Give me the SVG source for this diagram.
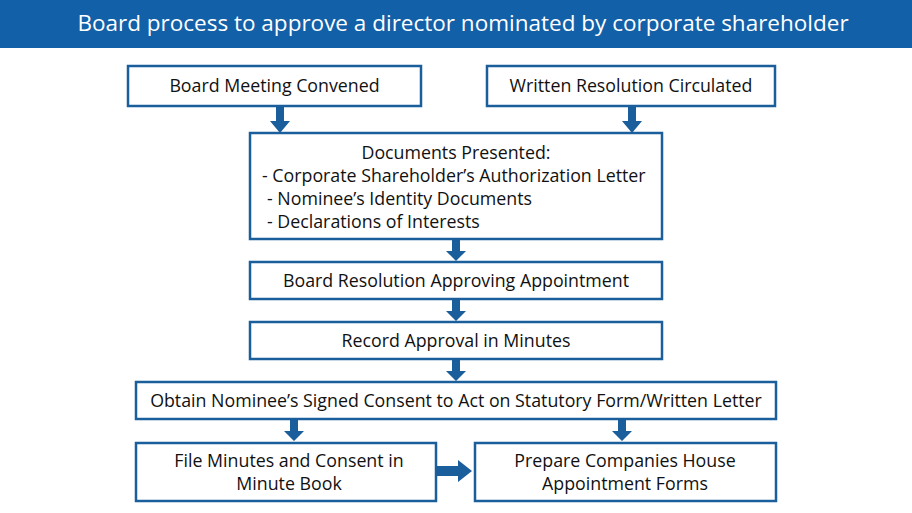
<svg xmlns="http://www.w3.org/2000/svg" width="912" height="513" viewBox="0 0 912 513">
<style>
.box{fill:#fff;stroke:#1b5e9c;stroke-width:2.5}
.t{font-family:"Open Sans","Liberation Sans",sans-serif;font-size:17.8px;fill:#111;text-anchor:middle}
.ar{fill:#1b5e9c}
</style>
<defs>
<path id="dn" d="M-4,0 H4 V14 H10 L0,26 L-10,14 H-4 Z"/>
</defs>
<rect x="0" y="0" width="912" height="48" fill="#1260a8"/>
<text x="463" y="31" font-family="Open Sans, Liberation Sans, sans-serif" font-size="22.5" fill="#fff" text-anchor="middle">Board process to approve a director nominated by  corporate shareholder</text>
<g id="connectors" class="ar">
<use href="#dn" transform="translate(280,107)"/>
<use href="#dn" transform="translate(632,107)"/>
<use href="#dn" transform="translate(456,239) scale(1,0.85)"/>
<use href="#dn" transform="translate(456,299) scale(1,0.85)"/>
<use href="#dn" transform="translate(456,359) scale(1,0.85)"/>
<use href="#dn" transform="translate(294,419) scale(1,0.85)"/>
<use href="#dn" transform="translate(622,419) scale(1,0.85)"/>
<path d="M437,466 H458 V460 L472,471 L458,482 V476 H437 Z"/>
</g>
<g id="n1"><rect class="box" x="128" y="66" width="293" height="40"/><text class="t" x="274.5" y="92">Board Meeting Convened</text></g>
<g id="n2"><rect class="box" x="487" y="66" width="288" height="40"/><text class="t" x="631" y="92">Written Resolution Circulated</text></g>
<g id="n3"><rect class="box" x="250" y="133" width="412" height="106"/>
<text class="t" x="456" y="159">Documents Presented:</text>
<text class="t" x="262" y="182" style="text-anchor:start">- Corporate Shareholder’s Authorization Letter</text>
<text class="t" x="267" y="205" style="text-anchor:start">- Nominee’s Identity Documents</text>
<text class="t" x="267" y="228" style="text-anchor:start">- Declarations of Interests</text></g>
<g id="n4"><rect class="box" x="250" y="262" width="412" height="37"/><text class="t" x="456" y="287">Board Resolution Approving Appointment</text></g>
<g id="n5"><rect class="box" x="250" y="322" width="412" height="37"/><text class="t" x="456" y="347">Record Approval in Minutes</text></g>
<g id="n6"><rect class="box" x="136" y="382" width="640" height="37"/><text class="t" x="456" y="407">Obtain Nominee’s Signed Consent to Act on Statutory Form/Written Letter</text></g>
<g id="n7"><rect class="box" x="136" y="443" width="300" height="58"/><text class="t" x="289" y="467">File Minutes and Consent in</text><text class="t" x="289" y="490">Minute Book</text></g>
<g id="n8"><rect class="box" x="475" y="443" width="301" height="58"/><text class="t" x="625" y="467">Prepare Companies House</text><text class="t" x="625" y="490">Appointment Forms</text></g>
</svg>
